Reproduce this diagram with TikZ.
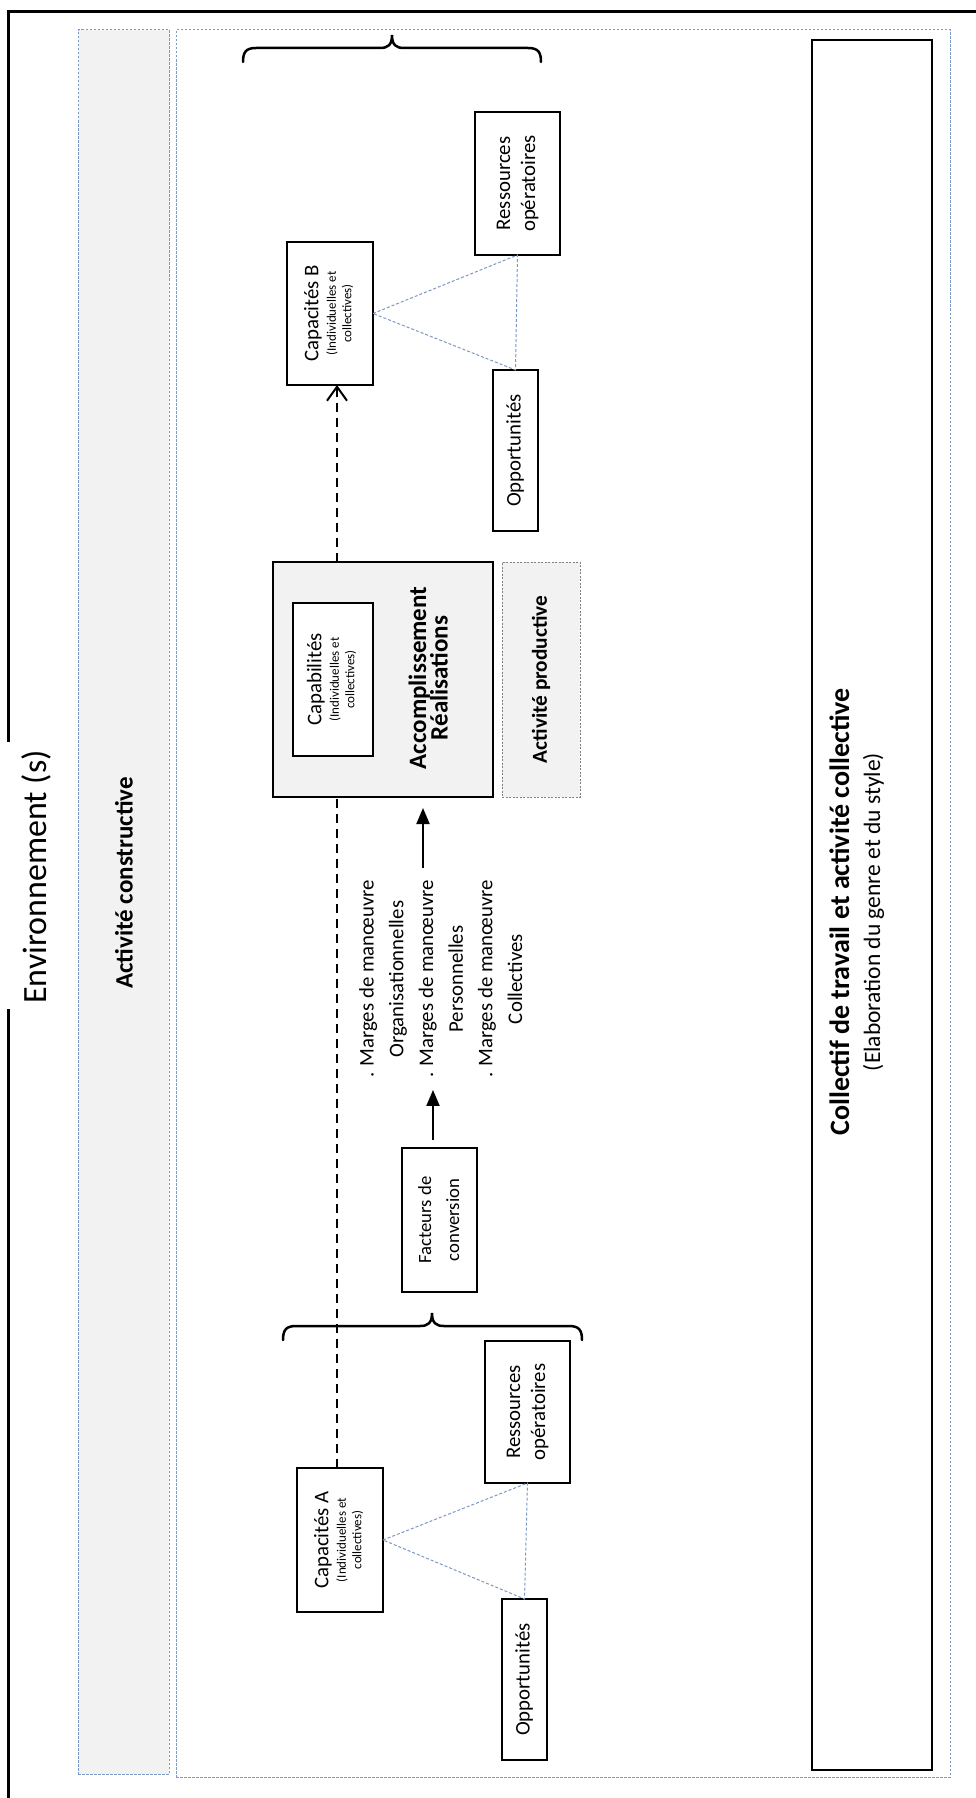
\documentclass[tikz,border=0pt]{standalone}
\usepackage{fontspec}
\setmainfont{Carlito}
\usepackage{graphicx}
\usetikzlibrary{arrows.meta,calc}
\definecolor{panelblue}{RGB}{124,152,196}
\definecolor{lightfill}{RGB}{242,242,242}
\definecolor{prodgray}{RGB}{128,128,128}
\newcommand\fmain{\fontsize{20.8}{25}\selectfont}
\newcommand\fsmall{\fontsize{13}{15.5}\selectfont}
\newcommand\fbold{\fontsize{25}{27}\selectfont\bfseries}
\newcommand\rt[1]{\rotatebox{90}{\begin{tabular}{@{}c@{}}#1\end{tabular}}}
\begin{document}
\begin{tikzpicture}[x=1pt,y=-1pt,
  box/.style={draw=black, line width=1.3pt, fill=white, inner sep=0pt, outer sep=0pt},
  panel/.style={draw=panelblue, line width=1pt, dash pattern=on 2.5pt off 1.5pt, inner sep=0pt, outer sep=0pt},
  prodbox/.style={draw=prodgray, line width=1pt, dash pattern=on 2pt off 1.5pt, fill=lightfill, inner sep=0pt, outer sep=0pt},
  dotline/.style={draw=panelblue, line width=1pt, dash pattern=on 3pt off 2pt},
  dashline/.style={line width=2pt, dash pattern=on 9pt off 6pt},
  arr/.style={line width=2pt, -{Triangle[length=16pt,width=13pt]}},
  bracestyle/.style={line width=2.5pt, line cap=round},
  framestyle/.style={line width=3pt},
  plain/.style={inner sep=0pt, outer sep=0pt}]
\useasboundingbox (0,0) rectangle (976,1798);
\fill[white] (0,0) rectangle (976,1798);
% outer frame
\draw[framestyle] (8,742) -- (8,12) -- (976,12);
\draw[framestyle] (8,1009) -- (8,1798);
\node[plain] (env) at (36,877) {\rotatebox{90}{\fontsize{34}{36}\selectfont Environnement (s)}};
% panels
\node[panel, fill=lightfill, minimum width=91, minimum height=1744] (leftpanel) at (123.5,902) {};
\node[plain] (constr) at (124,883) {\rotatebox{90}{\fbold Activité constructive}};
\node[panel, fill=white, minimum width=774, minimum height=1747] (mainpanel) at (563,903.5) {};
\node[box, minimum width=120, minimum height=1730] (coll) at (872,905) {};
\node[plain] (colltext) at (858.5,912)
  {\fontsize{23.5}{31}\selectfont\rt{{\fontsize{28}{31}\selectfont\bfseries Collectif de travail et activité collective}\\ (Elaboration du genre et du style)}};
% braces
\draw[bracestyle] (243,62) .. controls (243,52) and (246,48) .. (256,48) -- (380,48)
  .. controls (388,48) and (392,45) .. (392,35) .. controls (392,45) and (396,48) .. (404,48)
  -- (528,48) .. controls (538,48) and (541,52) .. (541,62);
\begin{scope}[shift={(40,1278)}]
\draw[bracestyle] (243,62) .. controls (243,52) and (246,48) .. (256,48) -- (380,48)
  .. controls (388,48) and (392,45) .. (392,35) .. controls (392,45) and (396,48) .. (404,48)
  -- (529,48) .. controls (539,48) and (542,52) .. (542,62);
\end{scope}
% top group
\node[box, minimum width=85, minimum height=143] (resB) at (517.5,183.5) {\fmain\rt{Ressources\\ opératoires}};
\node[box, minimum width=86, minimum height=143] (capB) at (330,313.5)
  {\fsmall\rt{{\fmain Capacités B}\\[2pt] (Individuelles et\\ collectives)}};
\node[box, minimum width=45, minimum height=161] (oppB) at (515.5,450.5) {\fmain\rt{Opportunités}};
\draw[dotline] (capB.east) -- (resB.south) -- (oppB.north) -- cycle;
% accomplissement
\node[box, fill=lightfill, minimum width=220, minimum height=235] (acc) at (383,679.5) {};
\node[box, minimum width=80, minimum height=153] (capab) at (333,679.5)
  {\fsmall\rt{{\fmain Capabilités}\\[2pt] (Individuelles et\\ collectives)}};
\node[plain] (acctext) at (430,678) {\rt{\fbold Accomplissement\\ \fbold Réalisations}};
\node[prodbox, minimum width=78, minimum height=235] (prod) at (541,679.5)
  {\rotatebox{90}{\fontsize{21.3}{24}\selectfont\bfseries Activité productive}};
% marges
\node[plain] (marges) at (442,979) {\fontsize{20.8}{29.7}\selectfont\rt{. Marges de manœuvre\\ Organisationnelles\\ . Marges de manœuvre\\ Personnelles\\ . Marges de manœuvre\\ Collectives}};
\node[box, minimum width=75, minimum height=144] (fac) at (439.5,1220)
  {\fontsize{18.7}{28}\selectfont\rt{Facteurs de\\ conversion}};
\coordinate (a1) at (423,0);
\coordinate (a2) at (433,0);
\draw[arr, shorten <=12pt, shorten >=11pt] (marges.north -| a1) -- (acc.south -| a1);
\draw[arr, shorten <=8pt, shorten >=12pt] (fac.north -| a2) -- (marges.south -| a2);
% bottom group
\node[box, minimum width=85, minimum height=142] (resA) at (527.5,1412) {\fmain\rt{Ressources\\ opératoires}};
\node[box, minimum width=86, minimum height=144] (capA) at (340,1540)
  {\fsmall\rt{{\fmain Capacités A}\\[2pt] (Individuelles et\\ collectives)}};
\node[box, minimum width=45, minimum height=161] (oppA) at (524.5,1679.5) {\fmain\rt{Opportunités}};
\draw[dotline] (capA.east) -- (resA.south) -- (oppA.north) -- cycle;
% dashed line
\coordinate (dl) at (337,0);
\draw[dashline] (capA.north -| dl) -- (acc.south -| dl);
\draw[dashline, -{Straight Barb[length=14pt,width=20pt,line width=2pt]}] (acc.north -| dl) -- (capB.south -| dl);
\end{tikzpicture}
\end{document}
